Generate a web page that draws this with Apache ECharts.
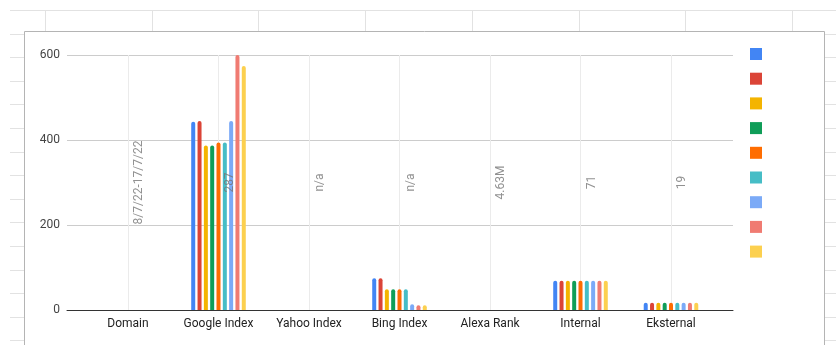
<!DOCTYPE html>
<html>
<head>
<meta charset="utf-8">
<script src="https://cdn.jsdelivr.net/npm/echarts@6/dist/echarts.min.js"></script>
<style>
  html, body { margin: 0; padding: 0; background: #fff; }
  #chart { width: 836px; height: 345px; }
</style>
</head>
<body>
<div id="chart"></div>
<script>
// categories on the x axis
var categories = ['Domain', 'Google Index', 'Yahoo Index', 'Bing Index', 'Alexa Rank', 'Internal', 'Eksternal'];
// text values shown rotated in each column
var notes = ['8/7/22-17/7/22', '287', 'n/a', 'n/a', '4.63M', '71', '19'];
// one entry per series (legend has no text)
var seriesNames = ['Data 1', 'Data 2', 'Data 3', 'Data 4', 'Data 5', 'Data 6', 'Data 7', 'Data 8', 'Data 9'];
var colors = ['#4285f4', '#db4437', '#f4b400', '#0f9d58', '#ff6d01', '#46bdc6', '#7baaf7', '#f07b72', '#fcd04f'];

// values per column (Domain, Yahoo Index, Alexa Rank have none)
var googleIndex = [443, 445, 387, 387, 394, 394, 445, 600, 574];
var bingIndex = [74.5, 74.5, 48.6, 48.6, 48.6, 48.6, 13.4, 11, 11];
var internal = [69, 69, 69, 69, 69, 69, 69, 69, 69];
var eksternal = [17, 17, 17, 17, 17, 17, 17, 17, 17];

var yTicks = { min: 0, max: 600, interval: 200 };

// spreadsheet background lines
var sheetRows = [], sheetCols = [];
for (var r = 0; r < 15; r++) sheetRows.push(Math.round(10 + r * 23.6) + 0.5);
for (var c = 0; c < 8; c++) sheetCols.push(Math.round(45 + c * 106.7) + 0.5);

var bg = [];
sheetRows.forEach(function (y) {
  bg.push({ type: 'line', z: -10, silent: true, shape: { x1: 10, y1: y, x2: 836, y2: y }, style: { stroke: '#e2e2e2', lineWidth: 1 } });
});
sheetCols.forEach(function (x) {
  bg.push({ type: 'line', z: -10, silent: true, shape: { x1: x, y1: 10, x2: x, y2: 345 }, style: { stroke: '#e2e2e2', lineWidth: 1 } });
});
bg.push({ type: 'rect', z: -5, silent: true, shape: { x: 24.5, y: 31.5, width: 800, height: 340 }, style: { fill: '#fff', stroke: '#b4b4b4', lineWidth: 1 } });

var font = 'Roboto, Arial, sans-serif';

var series = seriesNames.map(function (name, i) {
  return {
    name: name,
    type: 'bar',
    xAxisIndex: 1,
    yAxisIndex: 1,
    barWidth: 4,
    barGap: '58%',
    itemStyle: { color: colors[i], borderRadius: [2, 2, 0, 0] },
    data: [null, googleIndex[i], null, bingIndex[i], null, internal[i], eksternal[i]]
  };
});

// rotated text labels, centred on the value range
series.push({
  type: 'scatter',
  xAxisIndex: 1,
  yAxisIndex: 1,
  symbolSize: 0,
  itemStyle: { color: 'transparent' },
  data: notes.map(function (t, i) { return [i, (yTicks.min + yTicks.max) / 2]; }),
  label: {
    show: true,
    position: [11, 0],
    rotate: 90,
    align: 'center',
    verticalAlign: 'middle',
    fontFamily: font,
    fontSize: 12,
    color: '#757575',
    formatter: function (p) { return notes[p.dataIndex]; }
  }
});

var chart = echarts.init(document.getElementById('chart'), null, { renderer: 'canvas' });
chart.setOption({
  animation: false,
  color: colors,
  graphic: bg,
  legend: {
    data: seriesNames,
    orient: 'vertical',
    left: 745,
    top: 43,
    icon: 'rect',
    itemWidth: 12,
    itemHeight: 12,
    itemGap: 12.7,
    formatter: function () { return ''; },
    selectedMode: false
  },
  grid: [
    { left: 67, right: 103, top: 55, bottom: 35 },
    { left: 128, right: 165, top: 55, bottom: 35 }
  ],
  xAxis: [
    {
      gridIndex: 0, type: 'value', min: 0, max: 1,
      axisLine: { show: true, lineStyle: { color: '#333', width: 1 } },
      axisTick: { show: false }, axisLabel: { show: false }, splitLine: { show: false }
    },
    {
      gridIndex: 1, type: 'category', data: categories, boundaryGap: false,
      axisLine: { show: false }, axisTick: { show: false },
      axisLabel: { interval: 0, color: '#222', fontFamily: font, fontSize: 12, margin: 8 },
      splitLine: { show: true, interval: 0, lineStyle: { color: '#ebebeb', width: 1 } }
    }
  ],
  yAxis: [
    {
      gridIndex: 0, type: 'value', min: yTicks.min, max: yTicks.max, interval: yTicks.interval,
      axisLine: { show: false }, axisTick: { show: false },
      axisLabel: { color: '#444', fontFamily: font, fontSize: 12, margin: 7 },
      splitLine: { lineStyle: { color: '#cccccc', width: 1 } }
    },
    {
      gridIndex: 1, type: 'value', min: yTicks.min, max: yTicks.max, interval: yTicks.interval,
      show: false, splitLine: { show: false }
    }
  ],
  series: series
});
</script>
</body>
</html>
